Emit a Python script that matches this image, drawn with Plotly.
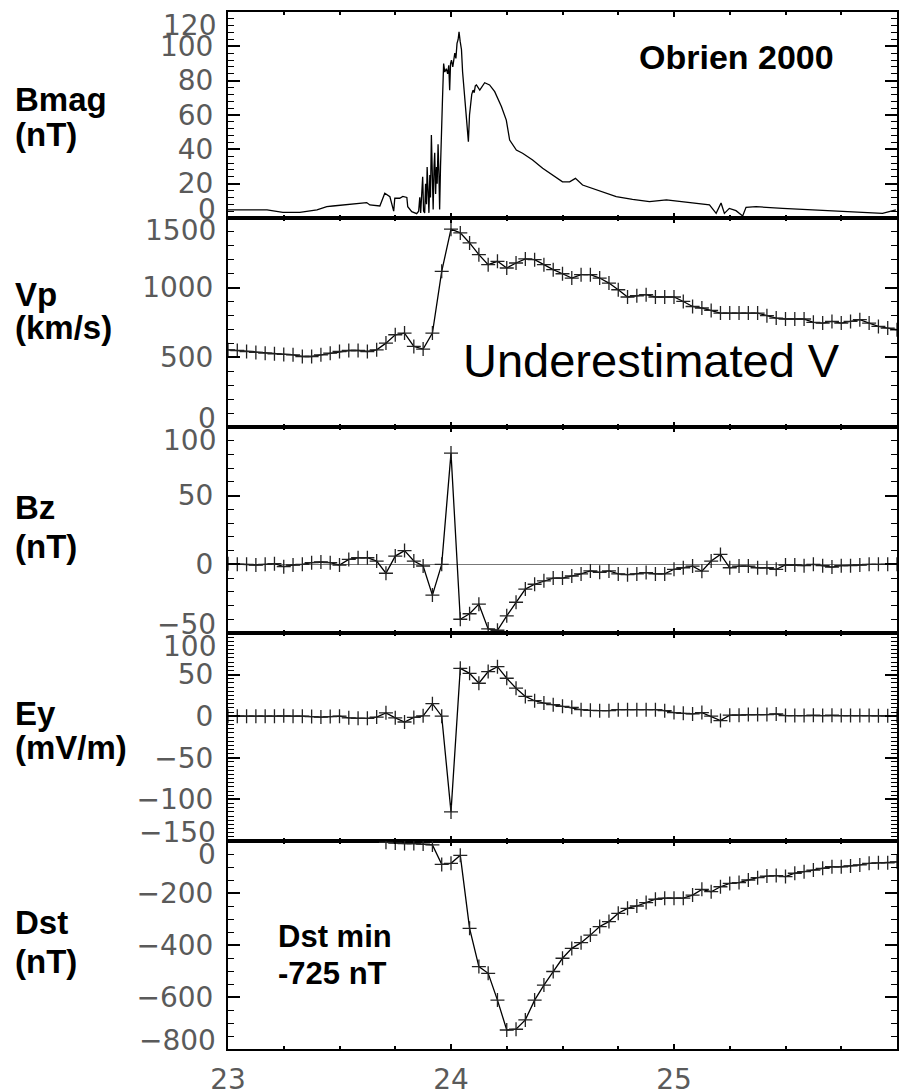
import plotly.graph_objects as go
from plotly.subplots import make_subplots

# ---------------- data ----------------
hours = list(range(73))                     # hourly samples from day 23.0 to 26.0
hour_days = [23 + h / 24 for h in hours]

vp = [554, 549, 542, 535, 530, 525, 521, 518, 506, 506, 518, 530, 542, 549, 549, 542, 554,
      602, 662, 674, 578, 559, 674, 1117, 1420,
      1393, 1321, 1237, 1165, 1189, 1141, 1177, 1206, 1201, 1165, 1129, 1100, 1069, 1093,
      1093, 1069, 1033, 985, 933, 942, 950, 933, 933, 933, 901, 865, 854, 837, 818, 818,
      818, 818, 818, 799, 782, 775, 775, 775, 751, 746, 758, 746, 758, 770, 746, 722, 710, 698]

bz = [0.5, 0, 0, -0.5, 0, 0.5, -1.7, -0.5, 0, 1.2, 1.7, 1.2, -0.5, 3.6, 4.8, 4.8, 2.4,
      -6.5, 6, 10, 2.4, -1.2, -22.4, 0, 81,
      -40, -36, -29, -47, -48, -37.5, -27.6, -18, -14.5, -12, -10, -10, -8.5, -7, -4.8,
      -5.8, -4.8, -7, -7.5, -7, -6, -7, -7, -3.6, -2.5, -1.3, -5, 2.4, 7.2, -2.5, -1.3,
      -1.3, -2.5, -2.5, -3.6, -0.5, -0.5, -1, 0, -1, -2, -1, -1, -0.5, 0, 0, 0, 0]

ey = [0, 0, 0, 0, 0, 0, 0.5, 0, 0, -0.5, -1, -0.5, 0, -2, -2.5, -2.5, -1,
      4, -2, -7, -1.5, 0.5, 15, 0, -115,
      57.5, 51.5, 39.6, 53.6, 59.5, 45.6, 33.7, 23.8, 18.6, 15.8, 13.8, 11.9, 10.7, 7.9,
      7.1, 6.7, 6.7, 7.9, 7.9, 7.9, 7.9, 7.9, 6.7, 4.3, 3.5, 2.7, 4.3, 0, -5.2, 1.2, 1.2,
      2, 2, 2, 2.7, 0.8, 0.8, 0.8, 1.2, 0.8, 1.2, 0.8, 0.8, 0.8, 0.8, 0.5, 0.5, 0.5]

dst_hours = list(range(17, 73))
dst_days = [23 + h / 24 for h in dst_hours]
dst = [-5, -8, -10, -10, -12, -15, -90, -86, -55, -336, -483, -509, -612, -727, -724,
       -688, -612, -554, -502, -451, -413, -391, -362, -329, -310, -278, -259, -250, -237,
       -224, -220, -220, -220, -208, -186, -195, -176, -163, -160, -150, -141, -135, -133,
       -137, -124, -118, -112, -105, -99, -99, -96, -92, -86, -84, -84, -80]

bmag_days = [23.000, 23.175, 23.246, 23.322, 23.399, 23.443, 23.470, 23.546, 23.622, 23.636,
             23.681, 23.703, 23.726, 23.743, 23.748, 23.770, 23.784, 23.802, 23.806, 23.824,
             23.846, 23.855, 23.860, 23.864, 23.869, 23.873, 23.877, 23.882, 23.886, 23.890,
             23.893, 23.897, 23.901, 23.905, 23.908, 23.912, 23.916, 23.920, 23.924, 23.927,
             23.931, 23.935, 23.938, 23.942, 23.946, 23.949, 23.953, 23.957, 23.962, 23.967,
             23.972, 23.979, 23.985, 23.990, 23.994, 23.998, 24.002, 24.008, 24.013, 24.017,
             24.022, 24.027, 24.032, 24.036, 24.041, 24.047, 24.052, 24.058, 24.064, 24.069,
             24.074, 24.078, 24.083, 24.088, 24.093, 24.099, 24.104, 24.109, 24.114, 24.129,
             24.151, 24.173, 24.196, 24.226, 24.248, 24.263, 24.293, 24.321, 24.366, 24.411,
             24.455, 24.500, 24.532, 24.558, 24.590, 24.666, 24.741, 24.814, 24.890, 24.966,
             25.038, 25.112, 25.159, 25.189, 25.211, 25.226, 25.248, 25.278, 25.308, 25.323,
             25.368, 25.487, 25.636, 25.786, 25.935, 25.995]
bmag = [4.7, 4.7, 3.3, 3.3, 4.7, 6.6, 7.0, 8.2, 9.0, 7.6,
        7.0, 14.4, 12.4, 4.0, 11.5, 11.5, 12.6, 12.0, 6.6, 3.7,
        2.5, 4.0, 12.0, 3.0, 18.0, 24.0, 4.0, 2.9, 20.0, 8.0,
        29.7, 10.0, 3.0, 25.0, 12.0, 48.3, 15.0, 5.0, 30.0, 38.0,
        14.0, 29.7, 20.0, 43.0, 25.0, 5.0, 30.0, 53.0, 70.0, 90.0,
        85.0, 87.0, 84.0, 89.0, 74.5, 90.0, 92.0, 88.0, 95.0, 96.0,
        93.0, 101.7, 104.0, 108.5, 103.0, 98.0, 85.0, 74.5, 66.0, 59.0,
        52.0, 44.5, 60.0, 67.0, 72.0, 74.5, 73.0, 77.0, 77.5, 74.5,
        78.8, 77.5, 73.6, 65.0, 57.0, 45.4, 39.6, 37.7, 33.8, 29.0,
        25.0, 21.1, 21.1, 23.1, 19.2, 15.9, 12.4, 10.8, 9.5, 10.5,
        9.5, 8.2, 7.6, 2.7, 8.7, 2.7, 5.6, 4.3, 1.2, 6.2,
        6.6, 5.6, 4.7, 3.7, 2.7, 4.7]

x_tick_vals = [23, 24, 25]
x_tick_text = ["23", "24", "25"]

panels = [
    # name, unit, range, major ticks, labels, minor step
    ("Bmag", "(nT)", [0, 120], [0, 20, 40, 60, 80, 100, 120],
     ["0", "20", "40", "60", "80", "100", "120"], 4),
    ("Vp", "(km/s)", [0, 1500], [0, 500, 1000, 1500], ["0", "500", "1000", "1500"], 100),
    ("Bz", "(nT)", [-50, 100], [-50, 0, 50, 100], ["\u221250", "0", "50", "100"], 10),
    ("Ey", "(mV/m)", [-150, 100], [-150, -100, -50, 0, 50, 100],
     ["\u2212150", "\u2212100", "\u221250", "0", "50", "100"], 5),
    ("Dst", "(nT)", [-800, 0], [-800, -600, -400, -200, 0],
     ["\u2212800", "\u2212600", "\u2212400", "\u2212200", "0"], 50),
]

# ---------------- figure ----------------
W, H = 900, 1092
PL, PR, PT, PB = 228, 897, 12, 1049          # plot area in page pixels
ML, MT, MR, MB = PL, PT, W - PR, H - PB
PW, PH = PR - PL, PB - PT

fig = make_subplots(rows=5, cols=1, shared_xaxes=True, vertical_spacing=0)

line_style = dict(color="black", width=1.3)
mk = dict(symbol="cross-thin", size=10, line=dict(color="#222", width=1.3), color="#222")

fig.add_trace(go.Scatter(x=bmag_days, y=bmag, mode="lines", line=line_style), row=1, col=1)
fig.add_trace(go.Scatter(x=hour_days, y=vp, mode="lines+markers", line=line_style, marker=mk), row=2, col=1)
fig.add_trace(go.Scatter(x=hour_days, y=bz, mode="lines+markers", line=line_style, marker=mk), row=3, col=1)
fig.add_trace(go.Scatter(x=hour_days, y=ey, mode="lines+markers", line=line_style, marker=mk), row=4, col=1)
fig.add_trace(go.Scatter(x=dst_days, y=dst, mode="lines+markers", line=line_style, marker=mk), row=5, col=1)

tick_font = dict(family="DejaVu Sans", size=28, color="#5a5a5a")

bounds = [(12, 218), (218, 427), (427, 633), (633, 841), (841, 1049)]
def py(p):
    return (PB - p) / PH
def px(p):
    return (p - PL) / PW

annotations = []
for i, (name, unit, rng, tv, tt, mstep) in enumerate(panels):
    r = i + 1
    top, bot = bounds[i]
    dom = [py(bot), py(top)]
    tt_native = ["" if v in (rng[0], rng[1]) else t for v, t in zip(tv, tt)]
    yid = "y" if r == 1 else f"y{r}"
    fig.update_yaxes(row=r, col=1, domain=dom, range=rng, tickmode="array", tickvals=tv,
                     ticktext=tt_native, ticks="inside", ticklen=12, tickwidth=1.5,
                     tickcolor="black", showline=True, linewidth=2, linecolor="black",
                     mirror="ticks", showgrid=False, zeroline=(name == "Bz"),
                     zerolinecolor="#777", zerolinewidth=1, tickfont=tick_font,
                     ticklabelstandoff=7, automargin=False,
                     minor=dict(dtick=mstep, tick0=0, ticks="inside", ticklen=6,
                                tickwidth=1.2, tickcolor="black", showgrid=False))
    fig.update_xaxes(row=r, col=1, range=[23, 26], tickmode="array", tickvals=x_tick_vals,
                     ticktext=x_tick_text, showticklabels=(r == 5), ticks="inside", ticklen=5,
                     tickwidth=2, tickcolor="black", showline=True, linewidth=2,
                     linecolor="black", mirror="ticks", showgrid=False, zeroline=False,
                     tickfont=tick_font, ticklabelstandoff=4, automargin=False,
                     minor=dict(dtick=0.25, tick0=23, ticks="inside", ticklen=3,
                                tickwidth=1.5, tickcolor="black", showgrid=False))
    for v, t in zip(tv, tt):
        if v == rng[1]:
            annotations.append(dict(x=0, xref="paper", y=v, yref=yid, text=t, showarrow=False,
                                    xanchor="right", yanchor="middle", xshift=-10, yshift=-13,
                                    font=tick_font))
        elif v == rng[0]:
            annotations.append(dict(x=0, xref="paper", y=v, yref=yid, text=t, showarrow=False,
                                    xanchor="right", yanchor="middle", xshift=-10, yshift=9,
                                    font=tick_font))

label_font = dict(family="Liberation Sans", size=33, color="black", weight="bold")
label_pos = [(100, 134), (294, 328), (507, 546), (713, 747), (922, 961)]
for (name, unit, *_), (y1, y2) in zip(panels, label_pos):
    annotations.append(dict(x=px(13), y=py(y1), xref="paper", yref="paper", text=name,
                            showarrow=False, xanchor="left", yanchor="middle", font=label_font))
    annotations.append(dict(x=px(13), y=py(y2), xref="paper", yref="paper", text=unit,
                            showarrow=False, xanchor="left", yanchor="middle", font=label_font))

annotations.append(dict(x=px(637), y=py(57), xref="paper", yref="paper", text="Obrien 2000",
                        showarrow=False, xanchor="left", yanchor="middle",
                        font=dict(family="Liberation Sans", size=34, color="black", weight="bold")))
annotations.append(dict(x=px(461), y=py(360), xref="paper", yref="paper", text="Underestimated V",
                        showarrow=False, xanchor="left", yanchor="middle",
                        font=dict(family="Liberation Sans", size=47, color="black")))
annotations.append(dict(x=px(276), y=py(936), xref="paper", yref="paper", text="Dst min",
                        showarrow=False, xanchor="left", yanchor="middle",
                        font=dict(family="Liberation Sans", size=31, color="black", weight="bold")))
annotations.append(dict(x=px(276), y=py(973), xref="paper", yref="paper", text="-725 nT",
                        showarrow=False, xanchor="left", yanchor="middle",
                        font=dict(family="Liberation Sans", size=31, color="black", weight="bold")))

fig.update_layout(width=W, height=H, margin=dict(l=ML, r=MR, t=MT, b=MB, autoexpand=False),
                  paper_bgcolor="white", plot_bgcolor="white", showlegend=False,
                  annotations=annotations)

# remove the browser's default 8px body margin so the figure fills the 900x1092 window exactly
fig.write_html("out.html", config={"displayModeBar": False},
               post_script="document.body.style.margin='0';document.body.style.overflow='hidden';")
